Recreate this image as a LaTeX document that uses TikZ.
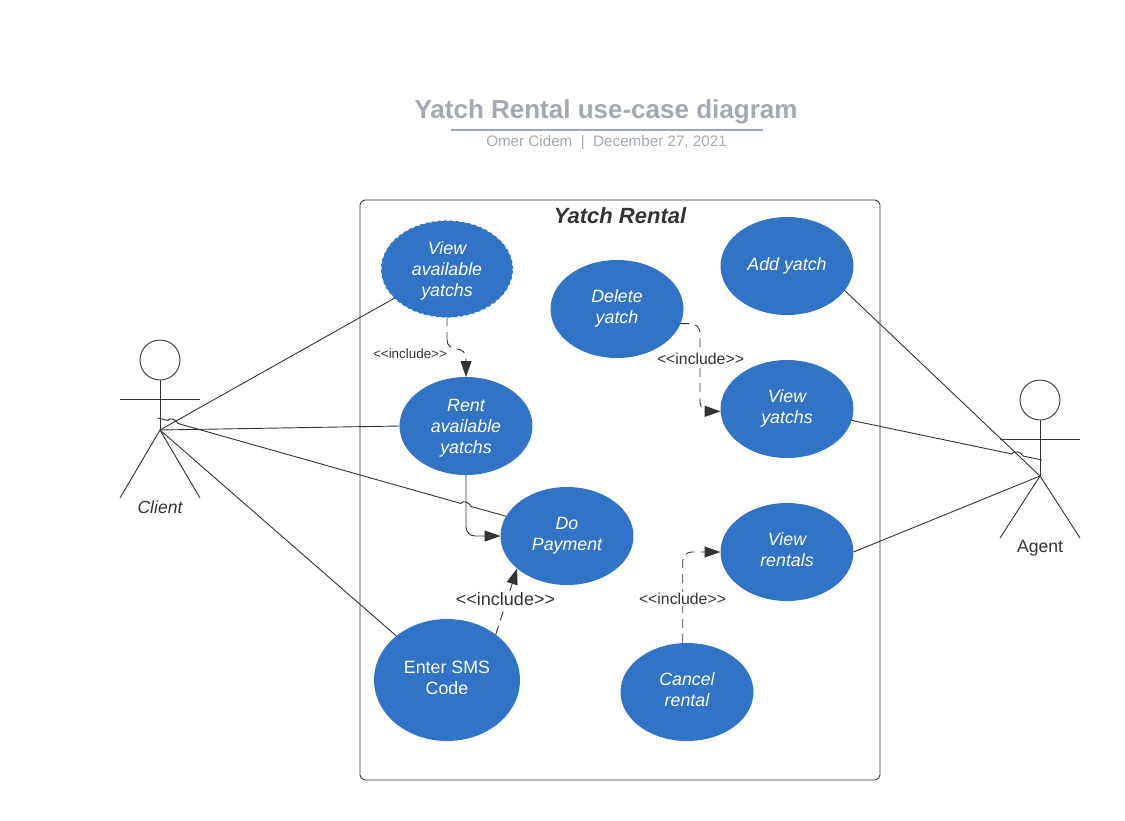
\documentclass[tikz,border=0pt]{standalone}
\usepackage{fontspec}
\setmainfont{Liberation Sans}
\usetikzlibrary{shapes.geometric,arrows.meta}
\definecolor{caseblue}{HTML}{3174C6}
\definecolor{inkdark}{HTML}{333333}
\definecolor{titlegray}{HTML}{A3A9B2}
\definecolor{rulegray}{HTML}{9AA5B8}
\tikzset{
  usecase/.style={ellipse, fill=caseblue, text=white, inner sep=0pt, outer sep=0pt, minimum width=133pt, minimum height=98pt, align=center, font=\fontsize{17.8}{21}\selectfont},
  assoc/.style={inkdark, line width=0.9pt},
  incl/.style={inkdark, line width=0.9pt, dash pattern=on 9pt off 6pt, rounded corners=9pt, -{Triangle[length=16pt,width=11pt]}},
  inclabel/.style={fill=white, text=inkdark, inner sep=1pt, font=\fontsize{#1}{#1}\selectfont},
  actorhead/.style={draw=inkdark, circle, line width=0.9pt, minimum size=40pt, inner sep=0pt, outer sep=0pt}
}
\begin{document}
\begin{tikzpicture}[x=1pt,y=-1pt]
  \useasboundingbox (0,0) rectangle (1125,820);

  % Title
  \node[text=titlegray, font=\fontsize{26}{26}\selectfont\bfseries] (title) at (606,111.5) {Yatch Rental use-case diagram};
  \node[text=titlegray, font=\fontsize{15.2}{16}\selectfont] (subtitle) at (606.5,143) {Omer Cidem\ \ |\ \ December 27, 2021};
  \draw[rulegray, line width=1.6pt] (451,130) -- (763,130);

  % System box
  \node[draw=inkdark, line width=0.9pt, rounded corners=5pt, minimum width=520pt, minimum height=580pt, inner sep=0pt, outer sep=0pt] (system) at (620,490) {};
  \node[text=inkdark, font=\fontsize{22}{22}\selectfont\bfseries\itshape] (systemname) at (620,216) {Yatch Rental};

  % Use cases
  \node[usecase, draw=caseblue, dashed, line width=1.2pt, minimum width=131pt, minimum height=96pt] (available) at (447,269) {{}\\[-5pt]\itshape View\\\itshape available\\\itshape yatchs};
  \node[usecase] (rent) at (466,426) {{}\\[-5pt]\itshape Rent\\\itshape available\\\itshape yatchs};
  \node[usecase] (pay) at (567,536) {\itshape Do\\\itshape Payment};
  \node[usecase, minimum width=146pt, minimum height=122pt] (sms) at (447,680) {Enter SMS\\Code\\[-17pt]{}};
  \node[usecase] (delete) at (617,309) {\itshape Delete\\\itshape yatch\\[-15.3pt]{}};
  \node[usecase] (add) at (787,266) {\itshape Add yatch};
  \node[usecase] (yatchs) at (787,409) {\itshape View\\\itshape yatchs\\[-15.3pt]{}};
  \node[usecase] (rentals) at (787,552) {\itshape View\\\itshape rentals\\[-17pt]{}};
  \node[usecase] (cancel) at (687,692) {\itshape Cancel\\\itshape rental\\[-17pt]{}};

  % Client
  \node[actorhead] (clienthead) at (160,360) {};
  \coordinate (clienthip) at (160,430);
  \coordinate (clientarml) at (120,399);
  \coordinate (clientarmr) at (200,399);
  \coordinate (clientlegl) at (120,498);
  \coordinate (clientlegr) at (200,498);
  \draw[assoc] (clienthead) -- (clienthip);
  \draw[assoc] (clientarml) -- (clientarmr);
  \draw[assoc] (clientlegl) -- (clienthip) -- (clientlegr);
  \node[text=inkdark, font=\fontsize{17.6}{18}\selectfont\itshape] (clientname) at (160,507) {Client};

  % Agent
  \node[actorhead] (agenthead) at (1040,400) {};
  \coordinate (agenthip) at (1040,476);
  \coordinate (agentarml) at (1000,439);
  \coordinate (agentarmr) at (1080,439);
  \coordinate (agentlegl) at (1000,538);
  \coordinate (agentlegr) at (1080,538);
  \draw[assoc] (agenthead) -- (agenthip);
  \draw[assoc] (agentarml) -- (agentarmr);
  \draw[assoc] (agentlegl) -- (agenthip) -- (agentlegr);
  \node[text=inkdark, font=\fontsize{17.6}{18}\selectfont] (agentname) at (1040,548) {Agent};

  % Associations
  \coordinate (clienthand) at (158,418);
  \coordinate (hopa) at (168,420.5);
  \coordinate (hopb) at (178,423.5);
  \coordinate (hopc) at (461,503.5);
  \coordinate (hopd) at (471,506.5);
  \draw[assoc] (clienthip) -- (available.209);
  \draw[assoc] (clienthip) -- (rent.west);
  \draw[assoc] (clienthip) -- (sms.139);
  \draw[assoc] (clienthand) -- (hopa) to[out=70, in=110] (hopb) -- (hopc) to[out=70, in=110] (hopd) -- (pay.162);

  \coordinate (agenthand) at (1042,460);
  \coordinate (hope) at (1012,454);
  \coordinate (hopf) at (1023,456);
  \draw[assoc] (add.-23) -- (agenthip);
  \draw[assoc] (rentals.east) -- (agenthip);
  \draw[assoc] (yatchs.-10) -- (hope) to[out=70, in=110] (hopf) -- (agenthand);

  % Includes
  \coordinate (bendview) at (447,349);
  \coordinate (benddelete) at (700,370);
  \draw[incl] (available.south) |- (bendview) -| (rent.north);
  \draw[incl] (delete.-13) -| (benddelete) |- (yatchs.182);
  \draw[incl] (cancel.95) |- (rentals.west);
  \draw[incl] (sms.43) -- (pay.213);
  \draw[inkdark, line width=0.9pt, rounded corners=9pt, -{Triangle[length=16pt,width=11pt]}] (rent.south) |- (pay.west);

  \node[inclabel=13.4] (labelview) at (410,354) {<{}<include>{}>};
  \node[inclabel=15.8] (labeldelete) at (700.5,359) {<{}<include>{}>};
  \node[inclabel=18] (labelsms) at (505.5,599) {<{}<include>{}>};
  \node[inclabel=15.8] (labelcancel) at (682.5,599) {<{}<include>{}>};
\end{tikzpicture}
\end{document}
